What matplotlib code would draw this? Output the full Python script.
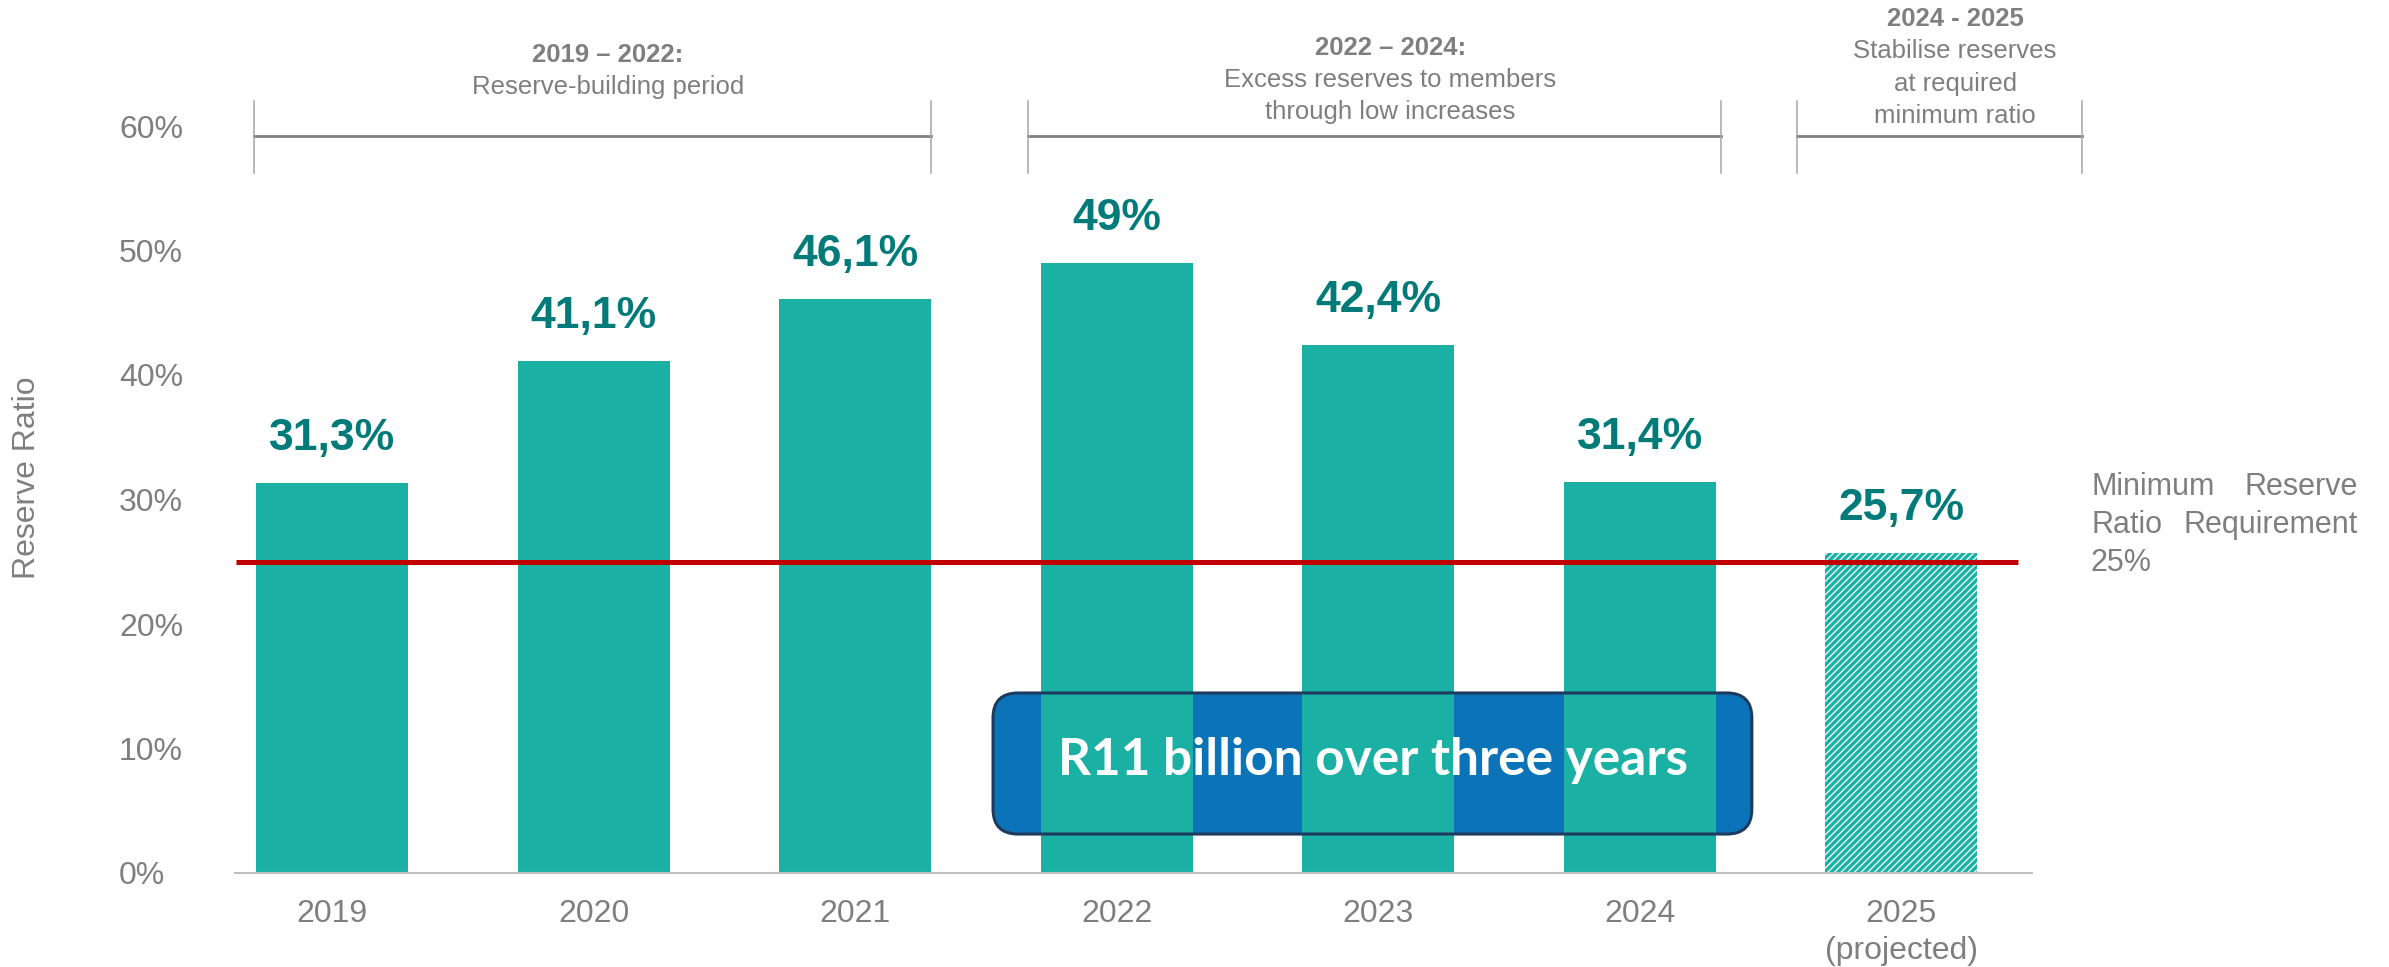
import numpy as np
import matplotlib.pyplot as plt
from matplotlib.patches import FancyBboxPatch

plt.rcParams['font.family'] = ['Liberation Sans', 'DejaVu Sans']
plt.rcParams['hatch.linewidth'] = 1.0

# reserve ratio per year, last year is a projection
years = ['2019', '2020', '2021', '2022', '2023', '2024', '2025\n(projected)']
ratio = [31.3, 41.1, 46.1, 49.0, 42.4, 31.4, 25.7]
ratio_labels = ['31,3%', '41,1%', '46,1%', '49%', '42,4%', '31,4%', '25,7%']
min_ratio = 25.0
yticks = [0, 10, 20, 30, 40, 50, 60]

period_titles = ['2019 – 2022:', '2022 – 2024:', '2024 - 2025']
period_notes = [['Reserve-building period'],
                ['Excess reserves to members', 'through low increases'],
                ['Stabilise reserves', 'at required', 'minimum ratio']]
box_text = 'R11 billion over three years'

TEAL = '#1AB0A4'
DARK_TEAL = '#007B7A'
GREY = '#7F7F7F'
RED = '#C00000'
BLUE = '#0B74B9'
NAVY = '#1F3A5F'

W, H = 2389, 967
fig = plt.figure(figsize=(W/100, H/100), dpi=100)
ax = fig.add_axes([235/W, 1 - 873/H, (2032-235)/W, (873-126)/H])

x = np.arange(len(years))
bw = 0.581

ax.bar(x[:-1], ratio[:-1], width=bw, color=TEAL, zorder=2)
ax.bar(x[-1], ratio[-1], width=bw, color=TEAL, edgecolor='#E8F7F5',
       linewidth=0, hatch='/////', zorder=2)

for xi, v, s in zip(x, ratio, ratio_labels):
    ax.annotate(s, (xi, v), xytext=(0, 24), textcoords='offset points',
                ha='center', va='baseline', fontsize=32, fontweight='bold',
                color=DARK_TEAL, zorder=6)

# minimum requirement line
ax.hlines(min_ratio, -0.367, 6.445, color=RED, lw=3.6, zorder=5)

# callout box: fill under the bars, outline above them
box_kw = dict(boxstyle='round,pad=0,rounding_size=0.0956', mutation_aspect=21.0)
ax.add_patch(FancyBboxPatch((2.527, 3.13), 2.901, 11.33, fc=BLUE, ec='none',
                            zorder=1, **box_kw))
ax.add_patch(FancyBboxPatch((2.527, 3.13), 2.901, 11.33, fc='none', ec=NAVY,
                            lw=2.2, zorder=3, **box_kw))
ax.text(3.98, 9.0, box_text, ha='center', va='center', color='white',
        fontsize=37, fontweight='bold', family=['Lato', 'DejaVu Sans'], zorder=4)

# period brackets along the top
spans = [(-0.30, 2.29), (2.66, 5.31), (5.60, 6.69)]
title_y = [65.7, 66.3, 68.6]
for (x0, x1), t, notes, ty in zip(spans, period_titles, period_notes, title_y):
    ax.plot([x0, x1], [59.2, 59.2], color='#808080', lw=2, clip_on=False)
    for xv in (x0, x1):
        ax.plot([xv, xv], [56.2, 62.0], color='#A6A6A6', lw=1.1, clip_on=False)
    xc = (x0 + x1) / 2 + 0.06
    ax.text(xc, ty, t, ha='center', va='center', fontsize=18.5,
            fontweight='bold', color=GREY)
    for k, line in enumerate(notes):
        ax.text(xc, ty - 2.6*(k+1), line, ha='center', va='center',
                fontsize=18.5, color=GREY)

ax.set_xlim(-0.371, 6.499)
ax.set_ylim(0, 60)
for side in ['top', 'right', 'left']:
    ax.spines[side].set_visible(False)
ax.spines['bottom'].set_color('#BFBFBF')
ax.spines['bottom'].set_linewidth(1.5)

ax.set_xticks(x, years)
ax.tick_params(axis='x', length=0, pad=19, labelsize=23, labelcolor=GREY)
for lbl in ax.get_xticklabels():
    lbl.set_linespacing(1.3)
ax.set_yticks(yticks, [f'{t}%' for t in yticks])
ax.tick_params(axis='y', length=0, pad=83.5, labelsize=23, labelcolor=GREY)
for lbl in ax.get_yticklabels():
    lbl.set_ha('left')

fig.text(27/W, 1 - 478/H, 'Reserve Ratio', rotation=90, ha='center',
         va='center', fontsize=23, color=GREY)

# requirement note, justified to both edges
xl, xr = 2091/W, 2358/W
fig.text(xl, 1 - 487/H, 'Minimum', ha='left', va='center', fontsize=22, color=GREY)
fig.text(xr, 1 - 487/H, 'Reserve', ha='right', va='center', fontsize=22, color=GREY)
fig.text(xl, 1 - 525/H, 'Ratio', ha='left', va='center', fontsize=22, color=GREY)
fig.text(xr, 1 - 525/H, 'Requirement', ha='right', va='center', fontsize=22, color=GREY)
fig.text(xl, 1 - 563/H, '25%', ha='left', va='center', fontsize=22, color=GREY)

fig.savefig('out.png', dpi=100)
